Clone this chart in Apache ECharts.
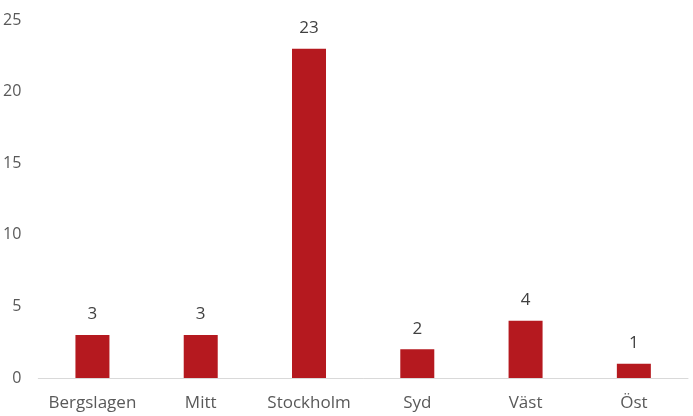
<!DOCTYPE html>
<html><head><meta charset="utf-8">
<script src="https://cdn.jsdelivr.net/npm/echarts@6/dist/echarts.min.js"></script>
<style>html,body{margin:0;padding:0;background:#fff}#c{width:693px;height:416px}</style>
</head><body><div id="c"></div>
<script>
const categories = ["Bergslagen", "Mitt", "Stockholm", "Syd", "Väst", "Öst"];
const values = [3, 3, 23, 2, 4, 1];
const yTicks = [0, 5, 10, 15, 20, 25];

const chart = echarts.init(document.getElementById('c'));
chart.setOption({
  animation: false,
  grid: { left: 37, right: 5, top: 20, bottom: 38, containLabel: false },
  xAxis: {
    type: 'category', data: categories,
    axisLine: { lineStyle: { color: '#D9D9D9', width: 1 } },
    axisTick: { show: false },
    axisLabel: { interval: 0, hideOverlap: false, color: '#595959', fontSize: 17, fontFamily: 'Open Sans, Liberation Sans, sans-serif', margin: 17 }
  },
  yAxis: {
    type: 'value', min: yTicks[0], max: yTicks[yTicks.length - 1], interval: 5,
    splitLine: { show: false },
    axisLine: { show: false }, axisTick: { show: false },
    axisLabel: { color: '#595959', fontSize: 16, fontFamily: 'Open Sans, Liberation Sans, sans-serif', margin: 17 }
  },
  series: [{
    type: 'bar', data: values, barWidth: 34,
    itemStyle: { color: '#B5191F' },
    label: { show: true, position: 'top', distance: 12, color: '#404040', fontSize: 17, fontFamily: 'Open Sans, Liberation Sans, sans-serif' }
  }]
});
</script></body></html>
